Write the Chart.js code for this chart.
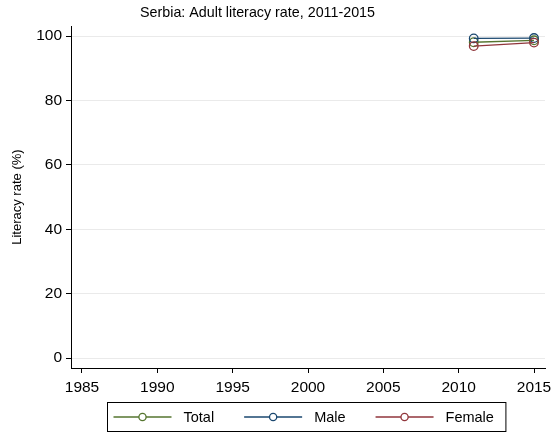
<!DOCTYPE html>
<html>
<head>
<meta charset="utf-8">
<script src="https://cdn.jsdelivr.net/npm/chart.js@4/dist/chart.umd.min.js"></script>
<style>
  html, body { margin: 0; padding: 0; background: #fff; }
  #wrap { width: 557px; height: 433px; }
</style>
</head>
<body>
<div id="wrap"><canvas id="c" width="557" height="433"></canvas></div>
<script>
const years = [2011, 2015];
const totalRate = [98.1, 98.7];
const maleRate = [99.3, 99.4];
const femaleRate = [96.9, 98.0];
const xTickValues = [1985, 1990, 1995, 2000, 2005, 2010, 2015];
const yTickValues = [0, 20, 40, 60, 80, 100];
const seriesNames = ['Total', 'Male', 'Female'];
const seriesColors = ['#55752f', '#1a476f', '#90353b'];

const FONT = "'Liberation Sans', Arial, Helvetica, sans-serif";

function pts(vals) { return years.map((y, i) => ({ x: y, y: vals[i] })); }

const datasets = [totalRate, maleRate, femaleRate].map((vals, i) => ({
  label: seriesNames[i],
  data: pts(vals),
  borderColor: seriesColors[i],
  backgroundColor: 'rgba(0,0,0,0)',
  borderWidth: 1.3,
  pointRadius: 4.3,
  pointHoverRadius: 4.3,
  pointBorderWidth: 1.3,
  pointBackgroundColor: 'rgba(0,0,0,0)',
  pointBorderColor: seriesColors[i],
  tension: 0,
  order: 2 - i
}));

const titleShift = {
  id: 'titleShift',
  afterLayout(chart) {
    if (chart.titleBlock) {
      chart.titleBlock.left = 0;
      chart.titleBlock.right = 515;
    }
  }
};

const boxedLegend = {
  id: 'boxedLegend',
  afterDraw(chart) {
    const ctx = chart.ctx;
    const ca = chart.chartArea;
    ctx.save();
    ctx.font = "14.5px " + FONT;
    const lineLen = 58, gapText = 12, gapItem = 30, padL = 6, padR = 12;
    const widths = chart.data.datasets.map(d => ctx.measureText(d.label).width);
    let total = padL + padR;
    widths.forEach((w, i) => { total += lineLen + gapText + w + (i < widths.length - 1 ? gapItem : 0); });
    const left = Math.round((ca.left + ca.right) / 2 - total / 2) - 1.5;
    const top = 402.5, h = 29;
    ctx.strokeStyle = '#000';
    ctx.lineWidth = 1;
    ctx.strokeRect(left, top, total, h);
    const cy = top + h / 2;
    let x = left + padL;
    chart.data.datasets.forEach((d, i) => {
      ctx.strokeStyle = d.borderColor;
      ctx.lineWidth = 1.3;
      ctx.beginPath();
      ctx.moveTo(x, cy);
      ctx.lineTo(x + lineLen, cy);
      ctx.stroke();
      ctx.fillStyle = '#fff';
      ctx.beginPath();
      ctx.arc(x + lineLen / 2, cy, 3.6, 0, Math.PI * 2);
      ctx.fill();
      ctx.stroke();
      ctx.fillStyle = '#000';
      ctx.textBaseline = 'middle';
      ctx.textAlign = 'left';
      ctx.fillText(d.label, x + lineLen + gapText, cy + 0.5);
      x += lineLen + gapText + widths[i] + gapItem;
    });
    ctx.restore();
  }
};

new Chart(document.getElementById('c'), {
  type: 'line',
  data: { datasets },
  plugins: [titleShift, boxedLegend],
  options: {
    responsive: false,
    animation: false,
    devicePixelRatio: 1,
    layout: { padding: { left: 0, right: 12, top: 0, bottom: 35 } },
    plugins: {
      legend: { display: false },
      tooltip: { enabled: false },
      title: {
        display: true,
        text: 'Serbia: Adult literacy rate, 2011-2015',
        color: '#000',
        font: { family: FONT, size: 14.3, weight: 'normal' },
        padding: { top: 4, bottom: 5 }
      }
    },
    scales: {
      x: {
        type: 'linear',
        min: 1984.27,
        max: 2015.73,
        afterBuildTicks: s => { s.ticks = xTickValues.map(v => ({ value: v })); },
        afterFit: s => { s.height = 30; },
        ticks: {
          color: '#000',
          font: { family: FONT, size: 15.5 },
          padding: 5,
          maxRotation: 0,
          autoSkip: false,
          callback: v => String(v)
        },
        grid: { drawOnChartArea: false, drawTicks: true, tickLength: 5, tickColor: '#000', tickWidth: 1 },
        border: { display: true, color: '#000', width: 1 }
      },
      y: {
        type: 'linear',
        min: -3.1,
        max: 103.1,
        afterBuildTicks: s => { s.ticks = yTickValues.map(v => ({ value: v })); },
        afterFit: s => { s.width = 71; },
        ticks: {
          color: '#000',
          font: { family: FONT, size: 15.5 },
          padding: 4,
          autoSkip: false,
          callback: v => String(v)
        },
        grid: { color: '#eaeaea', lineWidth: 1, drawTicks: true, tickLength: 5, tickColor: '#000', tickWidth: 1 },
        border: { display: true, color: '#000', width: 1 },
        title: {
          display: true,
          text: 'Literacy rate (%)',
          color: '#000',
          font: { family: FONT, size: 13 },
          padding: { top: 10, bottom: 0 }
        }
      }
    }
  }
});
</script>
</body>
</html>
